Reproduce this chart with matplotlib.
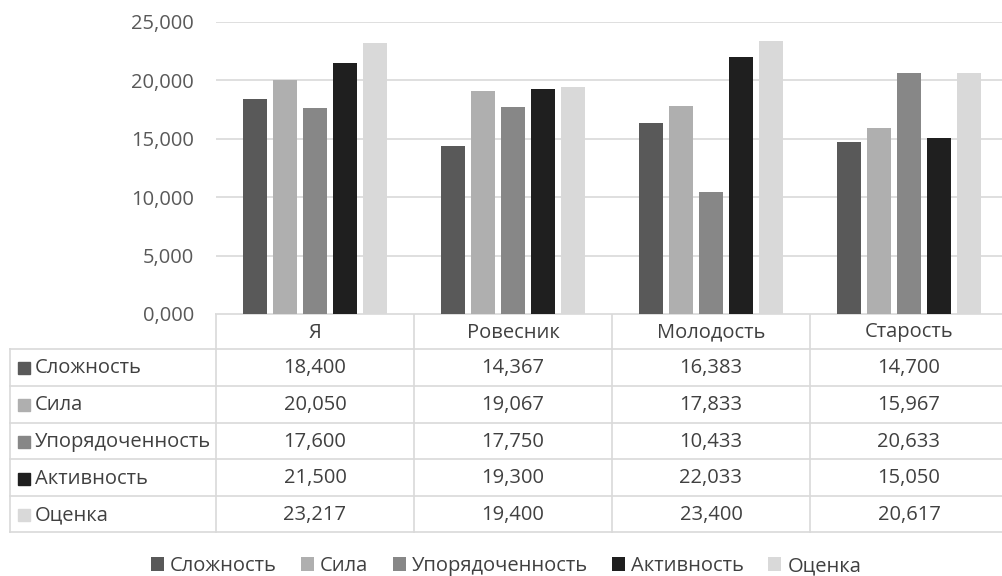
import numpy as np
import matplotlib.pyplot as plt
from matplotlib.patches import Rectangle

plt.rcParams['font.family'] = ['Open Sans', 'DejaVu Sans']

categories = ['Я', 'Ровесник', 'Молодость', 'Старость']
series = ['Сложность', 'Сила', 'Упорядоченность', 'Активность', 'Оценка']
slozhnost = [18.400, 14.367, 16.383, 14.700]
sila = [20.050, 19.067, 17.833, 15.967]
uporyad = [17.600, 17.750, 10.433, 20.633]
aktivnost = [21.500, 19.300, 22.033, 15.050]
ocenka = [23.217, 19.400, 23.400, 20.617]
values = [slozhnost, sila, uporyad, aktivnost, ocenka]
colors = ['#595959', '#afafaf', '#878787', '#1f1f1f', '#d9d9d9']

W, H = 1003, 576
grid_c = '#d9d9d9'
txt_c = '#404040'
fs = 14.5


def fmt(v):
    return f'{v:.3f}'.replace('.', ',')


fig = plt.figure(figsize=(W / 100, H / 100), dpi=100)
ax = fig.add_axes([216 / W, 1 - 314 / H, 792 / W, 292 / H])

x = np.arange(len(categories))
step = 0.152
for i, (vals, col) in enumerate(zip(values, colors)):
    ax.bar(x + (i - 2) * step, vals, 0.122, color=col, zorder=3, label=series[i])

ax.set_xlim(-0.5, len(categories) - 0.5)
ax.set_ylim(0, 25)
ax.set_yticks(np.arange(0, 26, 5))
ax.set_yticklabels([fmt(t) for t in np.arange(0, 26, 5)])
ax.set_xticks([])
ax.tick_params(axis='y', length=0, pad=16, labelsize=fs, labelcolor='#595959')
ax.grid(axis='y', color=grid_c, lw=1.2, zorder=0)
for s in ax.spines.values():
    s.set_visible(False)

# data table under the chart, drawn in pixel coords
tab = fig.add_axes([0, 0, 1, 1], zorder=-1)
tab.set_xlim(0, W)
tab.set_ylim(H, 0)
tab.axis('off')

edges = ax.transData.transform([(e, 0) for e in np.arange(-0.5, len(categories), 1)])[:, 0]
centers = ax.transData.transform([(c, 0) for c in x])[:, 0]
row_y = [314, 349, 385.5, 422.5, 459, 496, 532]
left = 10

tab.plot([edges[0], W], [row_y[0], row_y[0]], color=grid_c, lw=1.2)
for y in row_y[1:]:
    tab.plot([left, W], [y, y], color=grid_c, lw=1.2)
tab.plot([left, left], [row_y[1], row_y[-1]], color=grid_c, lw=1.2)
for e in edges:
    tab.plot([e, e], [row_y[0], row_y[-1]], color=grid_c, lw=1.2)

for c, name in zip(centers, categories):
    tab.text(c, (row_y[0] + row_y[1]) / 2 + 1, name, ha='center', va='center',
             fontsize=fs, color=txt_c)

for i, (name, vals, col) in enumerate(zip(series, values, colors)):
    yc = (row_y[i + 1] + row_y[i + 2]) / 2 + 1
    tab.add_patch(Rectangle((18, yc - 6), 12, 12, color=col))
    tab.text(35, yc, name, ha='left', va='center', fontsize=fs, color=txt_c)
    for c, v in zip(centers, vals):
        tab.text(c, yc, fmt(v), ha='center', va='center', fontsize=fs, color=txt_c)

handles, labels = ax.get_legend_handles_labels()
fig.legend(handles, labels, loc='center', bbox_to_anchor=(506 / W, 1 - 566 / H),
           ncol=5, frameon=False, fontsize=fs, handlelength=0.65, handleheight=0.65,
           handletextpad=0.3, columnspacing=1.2, labelcolor=txt_c)

fig.savefig('out.png', dpi=100)
